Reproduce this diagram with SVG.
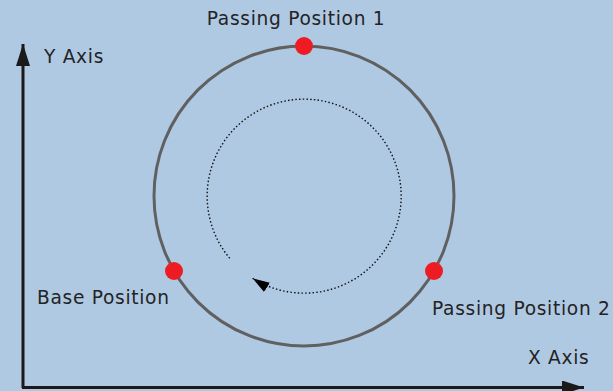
<svg xmlns="http://www.w3.org/2000/svg" width="613" height="391" viewBox="0 0 613 391">
<style>
.lbl{font-family:"DejaVu Sans",sans-serif;font-size:18.6px;fill:#232323;letter-spacing:0.7px}
.dot{fill:#ed1c24}
</style>
<defs>
<marker id="ah" markerWidth="22" markerHeight="14" refX="22" refY="7" orient="auto" markerUnits="userSpaceOnUse">
<path d="M0,0 L22,7 L0,14 Z" fill="#1a1a1a"/>
</marker>
<marker id="ah2" markerWidth="17" markerHeight="11" refX="17" refY="5.5" orient="auto" markerUnits="userSpaceOnUse">
<path d="M0,0 L17,5.5 L0,11 Z" fill="#000"/>
</marker>
</defs>
<rect width="613" height="391" fill="#b0c9e3"/>
<g id="connectors">
<path d="M23,388 L23,44" stroke="#1a1a1a" stroke-width="3" fill="none" marker-end="url(#ah)"/>
<path d="M22,387.5 L584,387.5" stroke="#1a1a1a" stroke-width="3" fill="none" marker-end="url(#ah)"/>
<path d="M229.7,258.3 A97,97 0 1 1 252.6,278.3" stroke="#111" stroke-width="1.4" stroke-dasharray="1.5 2.2" fill="none" marker-end="url(#ah2)"/>
</g>
<g id="circle">
<circle cx="304" cy="196" r="150" fill="none" stroke="#606060" stroke-width="3"/>
</g>
<g id="passing1">
<circle class="dot" cx="304" cy="46" r="9"/>
<text class="lbl" x="296" y="25" text-anchor="middle">Passing Position 1</text>
</g>
<g id="base">
<circle class="dot" cx="174" cy="271" r="9"/>
<text class="lbl" x="37" y="304">Base Position</text>
</g>
<g id="passing2">
<circle class="dot" cx="434" cy="271" r="9"/>
<text class="lbl" x="432" y="315">Passing Position 2</text>
</g>
<g id="yaxis"><text class="lbl" x="44" y="63">Y Axis</text></g>
<g id="xaxis"><text class="lbl" x="528" y="364">X Axis</text></g>
</svg>
